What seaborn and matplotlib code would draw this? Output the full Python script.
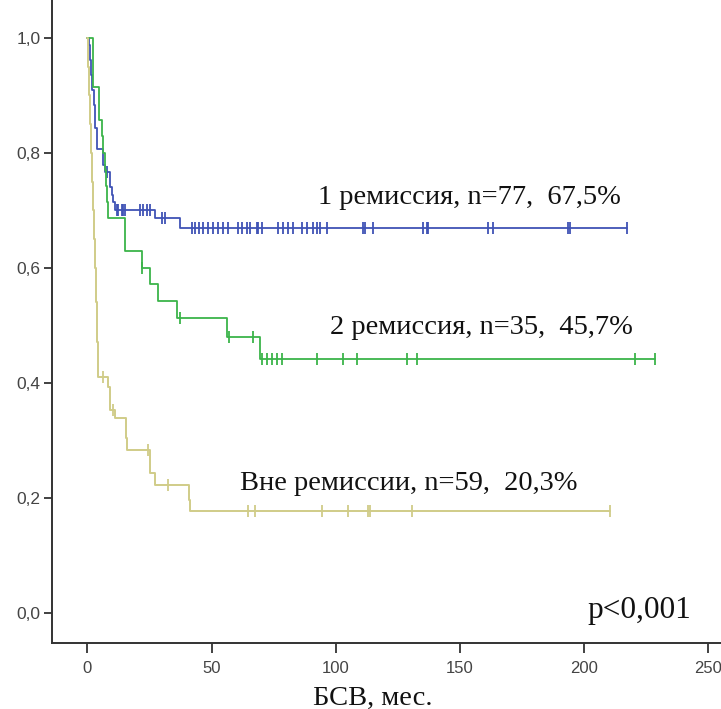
import numpy as np
import pandas as pd
import matplotlib
matplotlib.use("Agg")
import matplotlib.pyplot as plt
import seaborn as sns

# ---------------- data ----------------
# 1 ремиссия (n=77)
g1_event_t = [0.0, 0.5, 1.0, 1.5, 2.0, 2.5, 3.1, 3.7, 6.4, 7.1, 9.1, 9.8, 10.5, 11.1, 27.2, 37.3]
g1_event_s = [1.0, 0.987, 0.961, 0.935, 0.909, 0.883, 0.844, 0.807, 0.779, 0.766, 0.74, 0.727, 0.714, 0.70, 0.686, 0.669]
g1_censor_t = [7.8, 11.8, 12.5, 13.8, 14.5, 15.1, 21.0, 22.5, 24.0, 25.2, 29.9, 31.3,
               42.0, 43.5, 45.0, 46.7, 48.7, 50.7, 52.7, 54.8, 56.8, 60.8, 62.2, 64.2, 65.5,
               68.2, 68.9, 70.2, 76.9, 78.9, 80.9, 83.0, 86.3, 88.4, 91.0, 92.4, 93.7, 96.4,
               111.2, 111.8, 115.2, 135.3, 136.7, 137.3, 161.5, 163.5, 193.7, 194.4, 217.3]

# 2 ремиссия (n=35)
g2_event_t = [0.0, 2.4, 4.7, 5.8, 6.4, 7.0, 7.5, 8.0, 8.4, 15.1, 21.9, 25.2, 28.6, 36.0, 56.1, 69.5]
g2_event_s = [1.0, 0.914, 0.857, 0.829, 0.80, 0.771, 0.743, 0.714, 0.686, 0.629, 0.600, 0.571,
              0.543, 0.512, 0.480, 0.442]
g2_censor_t = [21.9, 37.3, 57.2, 66.9, 70.2, 72.2, 74.2, 76.2, 78.3, 92.4, 103.1, 108.5,
               128.7, 132.7, 220.6, 228.7]

# Вне ремиссии (n=59)
g3_event_t = [0.0, 0.4, 0.8, 1.2, 1.6, 2.0, 2.4, 2.8, 3.1, 3.5, 3.9, 4.3, 8.4, 9.1, 11.0,
              15.4, 15.8, 25.2, 27.2, 41.0, 41.3]
g3_event_s = [1.0, 0.95, 0.90, 0.85, 0.80, 0.75, 0.70, 0.65, 0.60, 0.54, 0.47, 0.41, 0.393,
              0.352, 0.338, 0.303, 0.282, 0.242, 0.222, 0.195, 0.177]
g3_censor_t = [6.1, 10.4, 24.5, 32.6, 64.8, 67.5, 94.4, 105.1, 113.2, 113.9, 130.7, 210.5]

group_names = ["1 ремиссия", "2 ремиссия", "Вне ремиссии"]
group_labels = ["1 ремиссия, n=77,  67,5%", "2 ремиссия, n=35,  45,7%", "Вне ремиссии, n=59,  20,3%"]
group_colors = ["#4053b5", "#3cb44a", "#d0cc88"]

x_ticks = [0, 50, 100, 150, 200, 250]
x_tick_labels = ["0", "50", "100", "150", "200", "250"]
y_ticks = [0.0, 0.2, 0.4, 0.6, 0.8, 1.0]
y_tick_labels = ["0,0", "0,2", "0,4", "0,6", "0,8", "1,0"]
x_label = "БСВ, мес."
p_text = "p<0,001"

# ---------------- build tables ----------------
groups = [
    (g1_event_t, g1_event_s, g1_censor_t),
    (g2_event_t, g2_event_s, g2_censor_t),
    (g3_event_t, g3_event_s, g3_censor_t),
]

line_rows = []
cens_rows = []
for name, (et, es, ct) in zip(group_names, groups):
    et = np.asarray(et, float)
    es = np.asarray(es, float)
    ct = np.asarray(ct, float)
    last_t = max(et.max(), ct.max())
    ts = np.append(et, last_t)
    ss = np.append(es, es[-1])
    for t, s in zip(ts, ss):
        line_rows.append({"group": name, "t": t, "s": s})
    idx = np.searchsorted(et, ct, side="right") - 1
    for t, s in zip(ct, es[idx]):
        cens_rows.append({"group": name, "t": t, "s": s})

lines_df = pd.DataFrame(line_rows)
cens_df = pd.DataFrame(cens_rows)

# ---------------- plot ----------------
sns.set_theme(style="ticks")
plt.rcParams["font.family"] = ["Liberation Sans", "DejaVu Sans"]

fig = plt.figure(figsize=(7.21, 7.09), dpi=100)
ax = fig.add_axes([0.0717, 0.0931, 0.9283, 0.9069])

palette = dict(zip(group_names, group_colors))
lw = {"1 ремиссия": 1.3, "2 ремиссия": 1.3, "Вне ремиссии": 1.4}
for name in group_names:
    sub = lines_df[lines_df["group"] == name]
    sns.lineplot(data=sub, x="t", y="s", ax=ax, color=palette[name],
                 drawstyle="steps-post", estimator=None, sort=False,
                 linewidth=lw[name], legend=False)
    csub = cens_df[cens_df["group"] == name]
    sns.scatterplot(data=csub, x="t", y="s", ax=ax, color=palette[name],
                    marker="|", s=65, linewidth=1.3, legend=False)

ax.set_xlim(-14.4, 255.3)
ax.set_ylim(-0.053, 1.066)
ax.set_xticks(x_ticks)
ax.set_xticklabels(x_tick_labels)
ax.set_yticks(y_ticks)
ax.set_yticklabels(y_tick_labels)
ax.tick_params(axis="both", colors="#333333", labelcolor="#444444", width=1.3)
ax.tick_params(axis="x", length=7, pad=6, labelsize=12)
ax.tick_params(axis="y", length=6, pad=2, labelsize=12.5)

for side in ["top", "right"]:
    ax.spines[side].set_visible(False)
for side in ["left", "bottom"]:
    ax.spines[side].set_color("#333333")
    ax.spines[side].set_linewidth(1.4)

serif = ["Liberation Serif", "DejaVu Serif"]
ax.set_ylabel("")
ax.set_xlabel(x_label, family=serif, fontsize=20.5, color="#111111")
ax.xaxis.set_label_coords(0.48, -0.066)

ax.text(92.9, 0.723, group_labels[0], family=serif, fontsize=20.5, ha="left", va="center", color="#111111")
ax.text(97.8, 0.496, group_labels[1], family=serif, fontsize=20.5, ha="left", va="center", color="#111111")
ax.text(61.5, 0.224, group_labels[2], family=serif, fontsize=20.5, ha="left", va="center", color="#111111")
ax.text(201.6, 0.004, p_text, family=serif, fontsize=22.5, ha="left", va="center", color="#111111")

fig.savefig("out.png", dpi=100)
